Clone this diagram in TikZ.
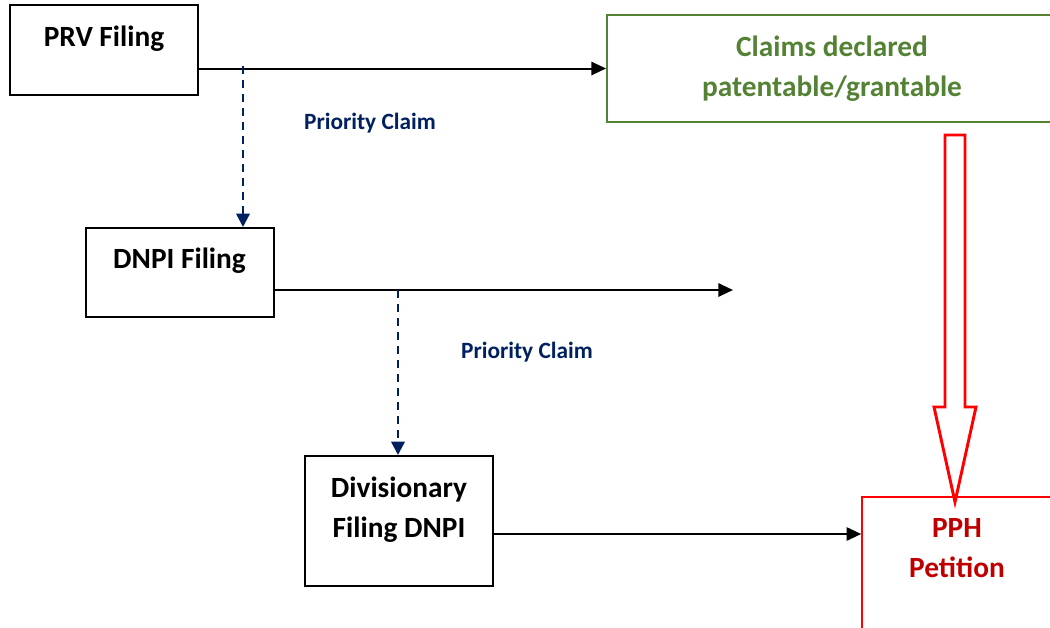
\documentclass[tikz,border=0pt]{standalone}
\usepackage{fontspec}
\setmainfont{Carlito}
\usetikzlibrary{positioning, calc, arrows.meta}
\definecolor{leafgreen}{HTML}{548235}
\definecolor{navyblue}{HTML}{002060}
\definecolor{darkred}{HTML}{C00000}
\tikzset{
  filebox/.style={draw, line width=1.5pt, minimum width=141pt, inner sep=0pt},
  boxtext/.style={font=\fontsize{22}{30}\selectfont\bfseries, align=center, inner sep=0pt},
  flow/.style={line width=1.5pt, -{Triangle[length=11pt, width=10pt]}},
  prio/.style={navyblue, line width=1.8pt, dash pattern=on 6pt off 4.5pt, -{Triangle[length=10pt, width=10pt]}},
  priotext/.style={navyblue, font=\fontsize{17.5}{20}\selectfont\bfseries}
}
\begin{document}
\begin{tikzpicture}[x=0.75pt, y=-0.75pt]
  \clip (0,0) rectangle (1050,628);
  \node[filebox, minimum height=67.5pt] (prv) at (104,50) {};
  \node[boxtext, below=16pt of prv.north] (prvtxt) {PRV Filing};
  \node[draw=leafgreen, line width=1.5pt, minimum width=337.5pt, minimum height=80.25pt, inner sep=0pt] (claims) at (832,68.5) {};
  \node[boxtext, leafgreen, below=16.5pt of claims.north] (claimstxt) {Claims declared\\patentable/grantable};
  \node[filebox, minimum height=66.75pt] (dnpi) at (179.5,272.5) {};
  \node[boxtext, below=15.5pt of dnpi.north] (dnpitxt) {DNPI Filing};
  \node[filebox, minimum height=97.5pt] (div) at (399,521) {};
  \node[boxtext, below=16pt of div.north] (divtxt) {Divisionary\\Filing DNPI};
  \node[draw=red, line width=1.2pt, minimum width=142.5pt, minimum height=102pt, inner sep=0pt] (pph) at (957,565) {};
  \node[boxtext, darkred, below=16.5pt of pph.north] (pphtxt) {PPH\\Petition};
  \coordinate (p1) at (243,66);
  \coordinate (p2) at (398,290);
  \coordinate (dnpiend) at (733,290);
  \draw[flow] (prv.east |- claims.west) -- (claims.west);
  \draw[prio] (p1) -- (p1 |- dnpi.north);
  \node[priotext] (prio1) at (370,123) {Priority Claim};
  \draw[flow] (dnpi.east |- p2) -- (dnpiend);
  \draw[prio] (p2) -- (p2 |- div.north);
  \node[priotext] (prio2) at (527,352) {Priority Claim};
  \draw[flow] (div.east |- 0,534) -- (pph.west |- 0,534);
  \draw[red, line width=2.2pt, fill=white] (945,135) -- (965,135) -- (965,407) -- (976,407) -- (955,502) -- (934,407) -- (945,407) -- cycle;
\end{tikzpicture}
\end{document}
